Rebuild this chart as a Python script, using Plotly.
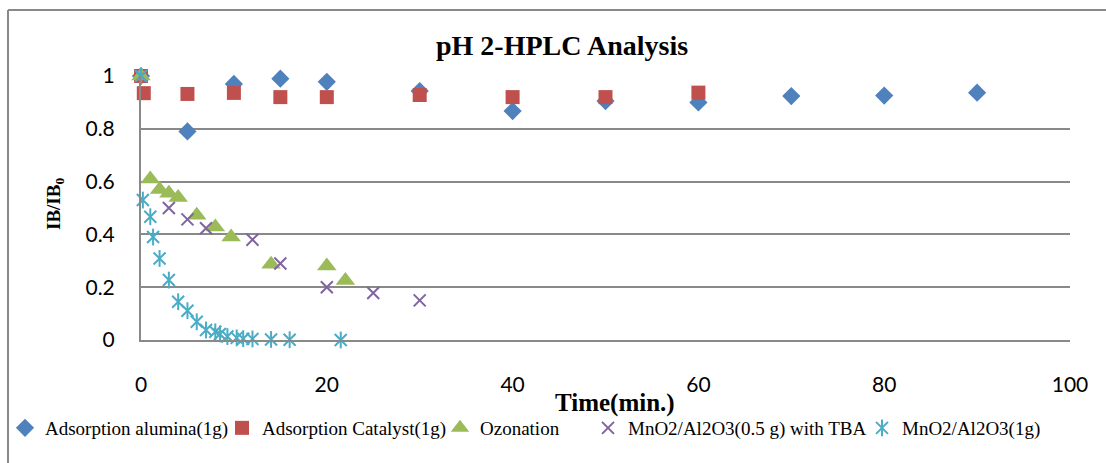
import plotly.graph_objects as go

# ---- data ----
alumina_t = [0, 5, 10, 15, 20, 30, 40, 50, 60, 70, 80, 90]
alumina_y = [1.0, 0.79, 0.97, 0.99, 0.978, 0.943, 0.867, 0.905, 0.90, 0.924, 0.926, 0.937]

catalyst_t = [0, 0.3, 5, 10, 15, 20, 30, 40, 50, 60]
catalyst_y = [1.0, 0.935, 0.932, 0.936, 0.92, 0.92, 0.928, 0.92, 0.92, 0.937]

ozon_t = [0, 1, 2, 3, 4, 6, 8, 9.7, 14, 20, 22]
ozon_y = [1.0, 0.61, 0.57, 0.556, 0.54, 0.473, 0.428, 0.39, 0.287, 0.28, 0.225]

tba_t = [0, 3, 5, 7, 12, 15, 20, 25, 30]
tba_y = [1.0, 0.50, 0.457, 0.423, 0.38, 0.29, 0.20, 0.178, 0.15]

mn_t = [0, 0.2, 1, 1.3, 2, 3, 4, 5, 6, 7, 8, 8.5, 9.3, 10.3, 11, 12, 14, 16, 21.5]
mn_y = [1.0, 0.53, 0.467, 0.39, 0.309, 0.227, 0.145, 0.111, 0.069, 0.038, 0.031, 0.023,
        0.013, 0.008, 0.005, 0.004, 0.002, 0.001, 0.0]

names = ["Adsorption alumina(1g)", "Adsorption Catalyst(1g)", "Ozonation",
         "MnO2/Al2O3(0.5 g) with TBA", "MnO2/Al2O3(1g)"]

x_ticks = [0, 20, 40, 60, 80, 100]
y_ticks = [0, 0.2, 0.4, 0.6, 0.8, 1]
y_ticktext = ["0", "0.2", "0.4", "0.6", "0.8", "1"]

# ---- layout geometry (pixels) ----
W, H = 1106, 463
L, R, T, B = 141, 36, 76, 123
pw = W - L - R
ph = H - T - B


def px_x(p):
    return (p - L) / pw


def px_y(p):
    return (H - B - p) / ph


BLUE, RED, GREEN, PURPLE, TEAL = "#4F81BD", "#C0504D", "#9BBB59", "#8064A2", "#4BACC6"
GRID = "#898989"

fig = go.Figure()
fig.add_trace(go.Scatter(x=alumina_t, y=alumina_y, mode="markers", name=names[0],
                         marker=dict(symbol="diamond", size=14, color=BLUE),
                         cliponaxis=False, legend="legend"))
fig.add_trace(go.Scatter(x=catalyst_t, y=catalyst_y, mode="markers", name=names[1],
                         marker=dict(symbol="square", size=14, color=RED),
                         cliponaxis=False, legend="legend2"))
fig.add_trace(go.Scatter(x=ozon_t, y=ozon_y, mode="markers", name=names[2],
                         marker=dict(symbol="triangle-up", size=17, color=GREEN),
                         cliponaxis=False, legend="legend3"))
fig.add_trace(go.Scatter(x=tba_t, y=tba_y, mode="markers", name=names[3],
                         marker=dict(symbol="x-thin-open", size=12, color=PURPLE,
                                     line=dict(width=2, color=PURPLE)),
                         cliponaxis=False, legend="legend4"))
fig.add_trace(go.Scatter(x=mn_t, y=mn_y, mode="markers", name=names[4],
                         marker=dict(symbol="x-thin-open", size=12, color=TEAL,
                                     line=dict(width=2, color=TEAL)),
                         cliponaxis=False, legend="legend5"))
fig.add_trace(go.Scatter(x=mn_t, y=mn_y, mode="markers", name=" ",
                         marker=dict(symbol="line-ns-open", size=12, color=TEAL,
                                     line=dict(width=2, color=TEAL)),
                         cliponaxis=False, legend="legend6"))

leg_font = dict(family="Liberation Serif", size=19, color="#000000")
text_x = [43, 260, 478, 626, 900, 900]
legends = {}
for i, tx in enumerate(text_x):
    key = "legend" if i == 0 else f"legend{i + 1}"
    legends[key] = dict(x=(tx - 38) / W, y=1 - 428 / H, xref="container", yref="container",
                        xanchor="left", yanchor="middle",
                        orientation="h", font=leg_font, bgcolor="rgba(0,0,0,0)",
                        borderwidth=0, itemwidth=30)

fig.update_layout(
    width=W, height=H,
    margin=dict(l=L, r=R, t=T, b=B, autoexpand=False),
    paper_bgcolor="white", plot_bgcolor="white",
    showlegend=True,
    **legends,
    xaxis=dict(range=[0, 100], tickvals=x_ticks, showgrid=False, zeroline=False,
               showline=True, linecolor=GRID, linewidth=2, ticks="",
               tickfont=dict(family="Lato", size=21, color="#000000"),
               ticklabelstandoff=25),
    yaxis=dict(range=[0, 1], tickvals=y_ticks, ticktext=y_ticktext, showgrid=True,
               gridcolor=GRID, gridwidth=2, zeroline=False, showline=True,
               linecolor=GRID, linewidth=2, ticks="",
               tickfont=dict(family="Lato", size=21, color="#000000"),
               ticklabelstandoff=20),
    annotations=[
        dict(text="<b>pH 2-HPLC Analysis</b>", x=px_x(562), y=px_y(45), xref="paper",
             yref="paper", showarrow=False, xanchor="center", yanchor="middle",
             font=dict(family="Liberation Serif", size=28, color="#000000")),
        dict(text="<b>Time(min.)</b>", x=px_x(615), y=px_y(403), xref="paper",
             yref="paper", showarrow=False, xanchor="center", yanchor="middle",
             font=dict(family="Liberation Serif", size=25, color="#000000")),
        dict(text="<b>IB/IB<sub>0</sub></b>", x=px_x(55), y=px_y(204), xref="paper",
             yref="paper", showarrow=False, xanchor="center", yanchor="middle",
             textangle=-90,
             font=dict(family="Liberation Serif", size=19, color="#000000")),
    ],
    shapes=[
        dict(type="line", xref="paper", yref="paper", x0=px_x(8), x1=px_x(1110),
             y0=px_y(10), y1=px_y(10), line=dict(color=GRID, width=2)),
        dict(type="line", xref="paper", yref="paper", x0=px_x(8), x1=px_x(8),
             y0=px_y(10), y1=px_y(470), line=dict(color=GRID, width=2)),
    ],
)

fig.write_html("out.html")
